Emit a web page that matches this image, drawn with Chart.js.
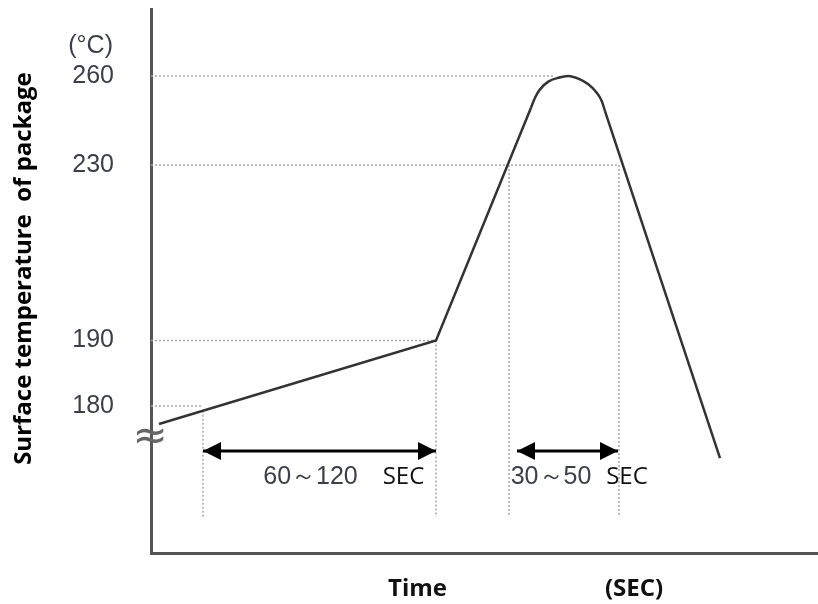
<!DOCTYPE html>
<html>
<head>
<meta charset="utf-8">
<script src="https://cdn.jsdelivr.net/npm/chart.js@4.4.1/dist/chart.umd.min.js"></script>
<style>
  html, body { margin: 0; padding: 0; background: #fff; }
  #wrap { width: 818px; height: 604px; }
</style>
</head>
<body>
<div id="wrap"><canvas id="reflowChart"></canvas></div>
<script>
// Reflow profile (time in schematic seconds, temperature in °C)
const tempTicks = [180, 190, 230, 260];

const heatTime = [4, 142.5, 190];
const heatTemp = [177.3, 190, 249.3];

const peakTime = [190, 192, 194.5, 198.65, 203.65, 208.65, 213.65, 218.65, 222.85, 225.35, 227];
const peakTemp = [249.3, 252.7, 255.5, 258.1, 259.4, 260, 259.1, 257.2, 254.4, 251.6, 248.2];

const coolTime = [227, 284.5];
const coolTemp = [248.2, 172.2];

// dotted guides
const levelTemps = [260, 230, 190, 180];
const levelEnds = [201, 234, 142.5, 26];
const dropTimes = [26, 142.5, 179, 234];
const dropTops = [179.3, 190, 230, 230];
const dropBottom = 163.4;

// duration spans (double arrows)
const spanStarts = [26, 183];
const spanEnds = [142.5, 233.5];
const spanTemp = 173.25;
const spanLabels = ['60～120', '30～50'];

// y axis is not uniform in the original: piecewise linear scale
class SegmentScale extends Chart.LinearScale {
    toDecimal(v) {
        const s = this.options.stops, f = this.options.marks;
        let i = 0;
        while (i < s.length - 2 && v > s[i + 1]) i++;
        return f[i] + (v - s[i]) / (s[i + 1] - s[i]) * (f[i + 1] - f[i]);
    }
    getPixelForValue(value) {
        return this.getPixelForDecimal(this.toDecimal(value));
    }
    getValueForPixel(pixel) {
        const d = this.getDecimalForPixel(pixel);
        const s = this.options.stops, f = this.options.marks;
        let i = 0;
        while (i < f.length - 2 && d > f[i + 1]) i++;
        return s[i] + (d - f[i]) / (f[i + 1] - f[i]) * (s[i + 1] - s[i]);
    }
}
SegmentScale.id = 'segment';
SegmentScale.defaults = Chart.LinearScale.defaults;
Chart.register(SegmentScale);

const pts = (xs, ys) => xs.map((x, i) => ({ x: x, y: ys[i] }));

const datasets = [];
const curve = { borderColor: '#333', borderWidth: 2.5, pointRadius: 0, fill: false };
datasets.push(Object.assign({ label: 'heat', data: pts(heatTime, heatTemp) }, curve));
datasets.push(Object.assign({ label: 'peak', data: pts(peakTime, peakTemp), cubicInterpolationMode: 'monotone' }, curve));
datasets.push(Object.assign({ label: 'cool', data: pts(coolTime, coolTemp) }, curve));

spanStarts.forEach((s, i) => {
    datasets.push({
        label: spanLabels[i],
        data: [{ x: s, y: spanTemp }, { x: spanEnds[i], y: spanTemp }],
        borderColor: '#000', borderWidth: 3, pointRadius: 0,
        arrowHeads: true
    });
});

const guide = { borderColor: '#a8a8a8', borderWidth: 1.5, borderDash: [2, 2], pointRadius: 0 };
levelTemps.forEach((t, i) => {
    datasets.push(Object.assign({ label: 'level ' + t, data: [{ x: 0, y: t }, { x: levelEnds[i], y: t }] }, guide));
});
dropTimes.forEach((x, i) => {
    datasets.push(Object.assign({ label: 'drop ' + x, data: [{ x: x, y: dropTops[i] }, { x: x, y: dropBottom }] }, guide));
});

// arrow heads + free text of the drawing
const notesPlugin = {
    id: 'notes',
    afterDatasetsDraw(chart) {
        const ctx = chart.ctx;
        const xs = chart.scales.x, ys = chart.scales.y;
        const area = chart.chartArea;

        ctx.save();
        ctx.fillStyle = '#000';
        chart.data.datasets.forEach((ds, i) => {
            if (!ds.arrowHeads) return;
            const p = chart.getDatasetMeta(i).data;
            const a = p[0], b = p[p.length - 1];
            [[a, 1], [b, -1]].forEach(([pt, dir]) => {
                ctx.beginPath();
                ctx.moveTo(pt.x, pt.y);
                ctx.lineTo(pt.x + dir * 18, pt.y - 9);
                ctx.lineTo(pt.x + dir * 18, pt.y + 9);
                ctx.closePath();
                ctx.fill();
            });
        });

        ctx.textBaseline = 'middle';
        const numFont = '25px "Liberation Sans", Arial, sans-serif';
        const secFont = '24px "Open Sans", sans-serif';
        const labelY = ys.getPixelForValue(169.35);
        const numAt = [79.75, 200];
        const secAt = [126.25, 238];
        spanLabels.forEach((txt, i) => {
            ctx.textAlign = 'center';
            ctx.font = numFont;
            ctx.fillStyle = '#3b3f47';
            ctx.fillText(txt, xs.getPixelForValue(numAt[i]), labelY);
            ctx.font = secFont;
            ctx.fillStyle = '#111';
            ctx.fillText('SEC', xs.getPixelForValue(secAt[i]), labelY);
        });

        // unit above the 260 tick
        ctx.font = numFont;
        ctx.fillStyle = '#3b3f47';
        ctx.textAlign = 'right';
        ctx.fillText('(°C)', area.left - 38, ys.getPixelForValue(260) - 30);

        // axis break mark
        ctx.font = '42px "DejaVu Sans", sans-serif';
        ctx.fillStyle = '#666';
        ctx.textAlign = 'center';
        ctx.fillText('≈', area.left - 1, 438);

        // x axis captions
        ctx.font = 'bold 24px "Open Sans", sans-serif';
        ctx.fillStyle = '#111';
        ctx.fillText('Time', xs.getPixelForValue(133.25), area.bottom + 36);
        ctx.fillText('(SEC)', xs.getPixelForValue(241.5), area.bottom + 36);
        ctx.restore();
    }
};

const ctx = document.getElementById('reflowChart').getContext('2d');
new Chart(ctx, {
    type: 'line',
    data: { datasets: datasets },
    plugins: [notesPlugin],
    options: {
        responsive: true,
        maintainAspectRatio: false,
        animation: false,
        layout: { padding: { top: 9, right: 1, left: 0, bottom: 0 } },
        scales: {
            x: {
                type: 'linear',
                min: 0,
                max: 333,
                grid: { display: false, drawTicks: false },
                ticks: { display: false },
                border: { color: '#555', width: 3 },
                afterFit: s => { s.height = 51; s.paddingLeft = 0; s.paddingRight = 0; }
            },
            y: {
                type: 'segment',
                min: 158,
                max: 283,
                stops: [158, 180, 190, 230, 260, 283],
                marks: [0, 0.2702, 0.3906, 0.7132, 0.8768, 1],
                afterBuildTicks: s => { s.ticks = tempTicks.map(v => ({ value: v })); },
                grid: { display: false, drawTicks: false },
                border: { color: '#555', width: 3 },
                ticks: {
                    padding: 37,
                    color: '#3b3f47',
                    font: { family: '"Liberation Sans", Arial, sans-serif', size: 25 },
                    callback: v => String(v)
                },
                title: {
                    display: true,
                    text: '    Surface temperature  of package',
                    color: '#000',
                    font: { family: '"Open Sans", sans-serif', size: 24, weight: 'bold' },
                    padding: { top: 10, bottom: 0 }
                },
                afterFit: s => { s.width = 151; s.paddingTop = 0; s.paddingBottom = 0; }
            }
        },
        plugins: {
            legend: { display: false },
            tooltip: { enabled: false }
        }
    }
});
</script>
</body>
</html>
